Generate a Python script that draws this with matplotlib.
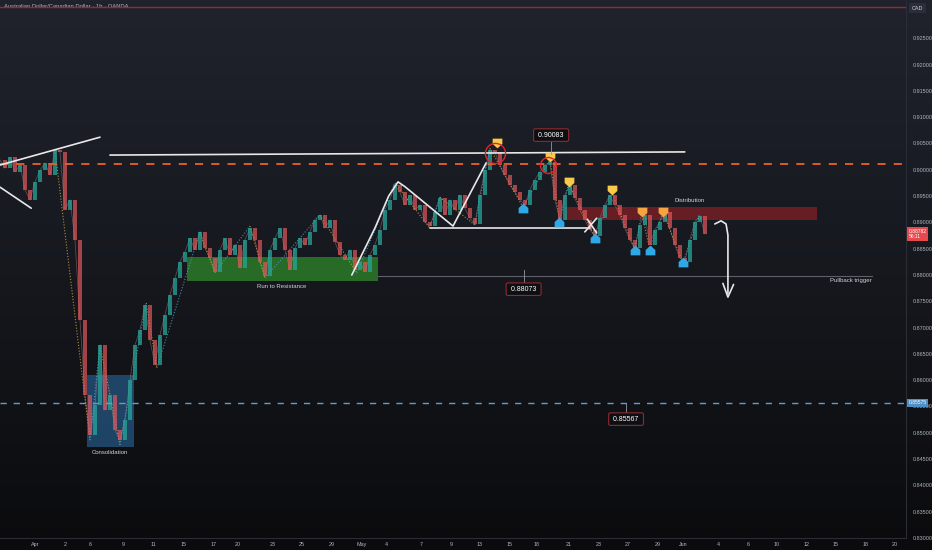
import matplotlib
matplotlib.use("Agg")
import matplotlib.pyplot as plt
import matplotlib.transforms as mtransforms
import numpy as np
from matplotlib.path import Path
from matplotlib.patches import Rectangle
from matplotlib.colors import LinearSegmentedColormap

plt.rcParams['font.family'] = ['Liberation Sans', 'DejaVu Sans']

# AUD/CAD closes, one value every 8 hours
step_hours = 8
closes = [
    0.9019, 0.9003, 0.9024, 0.8996, 0.9009, 0.8962, 0.8943, 0.8977, 0.8999, 0.9013,
    0.8990, 0.9038, 0.9034, 0.8924, 0.8943, 0.8867, 0.8714, 0.8572, 0.8496, 0.8553,
    0.8667, 0.8543, 0.8572, 0.8505, 0.8486, 0.8524, 0.8600, 0.8667, 0.8695, 0.8743,
    0.8676, 0.8629, 0.8686, 0.8724, 0.8762, 0.8794, 0.8825, 0.8844, 0.8870, 0.8848,
    0.8882, 0.8851, 0.8832, 0.8806, 0.8848, 0.8870, 0.8838, 0.8857, 0.8813, 0.8867,
    0.8889, 0.8867, 0.8825, 0.8798, 0.8848, 0.8870, 0.8889, 0.8848, 0.8810, 0.8851,
    0.8870, 0.8857, 0.8882, 0.8905, 0.8914, 0.8889, 0.8905, 0.8863, 0.8838, 0.8829,
    0.8848, 0.8810, 0.8825, 0.8806, 0.8838, 0.8857, 0.8886, 0.8924, 0.8943, 0.8971,
    0.8958, 0.8933, 0.8952, 0.8924, 0.8933, 0.8901, 0.8893, 0.8920, 0.8946, 0.8914,
    0.8943, 0.8924, 0.8952, 0.8927, 0.8908, 0.8897, 0.8952, 0.8999, 0.9038, 0.9034,
    0.9009, 0.8990, 0.8971, 0.8958, 0.8943, 0.8933, 0.8962, 0.8981, 0.8996, 0.9009,
    0.9015, 0.8943, 0.8905, 0.8952, 0.8971, 0.8946, 0.8924, 0.8905, 0.8886, 0.8874,
    0.8908, 0.8933, 0.8952, 0.8933, 0.8914, 0.8889, 0.8867, 0.8851, 0.8895, 0.8914,
    0.8857, 0.8886, 0.8901, 0.8920, 0.8889, 0.8857, 0.8832, 0.8825, 0.8867, 0.8901,
    0.8912, 0.8878,
]

# date axis (hours from start)
date_ticks = [56, 104, 144, 198, 246, 294, 341, 381, 437, 483, 531, 579, 619, 674, 722,
              768, 816, 858, 910, 958, 1005, 1053, 1093, 1149, 1197, 1243, 1291, 1338, 1386, 1432]
date_labels = ['Apr', '2', '6', '9', '11', '15', '17', '20', '23', '25', '29', 'May', '4', '7', '9',
               '13', '15', '18', '21', '23', '27', '29', 'Jun', '4', '6', '10', '12', '15', '18', '20']
price_ticks = [0.830, 0.835, 0.840, 0.845, 0.850, 0.855, 0.860, 0.865, 0.870, 0.875, 0.880,
               0.885, 0.890, 0.895, 0.900, 0.905, 0.910, 0.915, 0.920, 0.925]

# zigzag swing points
zigzag_hours = [88, 144, 160, 192, 234, 251, 320, 344, 400, 424, 512, 571, 632, 688, 704,
                760, 784, 837, 880, 896, 910, 952, 979, 1016, 1027, 1040, 1061, 1093, 1120]
zigzag_prices = [0.9038, 0.8486, 0.8667, 0.8477, 0.8747, 0.8623, 0.8882, 0.8804, 0.8893, 0.8794,
                 0.8914, 0.8804, 0.8975, 0.8889, 0.8948, 0.8895, 0.9041, 0.8929, 0.9019, 0.8901,
                 0.8975, 0.8872, 0.8958, 0.8848, 0.8918, 0.8848, 0.8920, 0.8823, 0.8916]

# swing labels
high_hours = [795, 880, 910, 979]
high_prices = [0.9051, 0.9024, 0.8977, 0.8962]
minor_high_hours = [1027, 1061]
minor_high_prices = [0.8920, 0.8920]
low_hours = [837, 894, 952, 1016, 1040, 1093]
low_prices = [0.8927, 0.8901, 0.8870, 0.8848, 0.8848, 0.8825]
circle_hours = [792, 877]
circle_prices = [0.9032, 0.9009]
circle_sizes = [14.5, 11.5]

# levels and zones
resistance_level = 0.9011
support_level = 0.85575
pullback_level = 0.8798
alert_level = 0.9310
last_price = 0.88782
consolidation_zone = (139, 214, 0.8473, 0.8610)
range_zone = (299, 605, 0.8789, 0.8834)
distribution_zone = (904, 1307, 0.8905, 0.8929)

# drawn trend lines
top_line_hours = [176, 1096]
top_line_prices = [0.9028, 0.9034]
neck_hours = [688, 944]
neck_prices = [0.8889, 0.8889]
wedge_up_hours = [0, 160]
wedge_up_prices = [0.9009, 0.9062]
wedge_dn_hours = [0, 50]
wedge_dn_prices = [0.8967, 0.8927]
swoosh_hours = [563, 600, 622, 637, 648, 725, 778]
swoosh_prices = [0.8800, 0.8889, 0.8950, 0.8977, 0.8968, 0.8893, 0.9013]
arrow_hours = [1144, 1154, 1162, 1165, 1165]
arrow_prices = [0.8897, 0.8903, 0.8897, 0.8876, 0.8765]
arrow_head_hours = [1157, 1165, 1174]
arrow_head_prices = [0.8784, 0.8758, 0.8782]

W, H = 932, 550
fig = plt.figure(figsize=(W / 100, H / 100), dpi=100)

bg = fig.add_axes([0, 0, 1, 1], zorder=-10)
cmap = LinearSegmentedColormap.from_list('bg', ['#20232d', '#16181e', '#0b0b0d'])
bg.imshow(np.linspace(0, 1, 256).reshape(-1, 1), aspect='auto', cmap=cmap,
          extent=[0, 1, 0, 1], origin='upper')
bg.axis('off')

ax = fig.add_axes([0, 12 / H, 906 / W, 538 / H])
ax.patch.set_alpha(0)
ax.set_xlim(0, 1450)
ax.set_ylim(0.83, 0.93228)

# candles (open = previous close)
closes = np.array(closes)
x = np.arange(len(closes)) * step_hours
opens = np.r_[closes[0], closes[:-1]]
up = closes >= opens
ax.bar(x[up], (closes - opens)[up], bottom=opens[up], width=6.5, color='#26a69a', alpha=0.75, zorder=3)
ax.bar(x[~up], (opens - closes)[~up], bottom=closes[~up], width=6.5, color='#e0575b', alpha=0.7, zorder=3)
ax.plot(x, closes, color='#b98a8f', lw=0.5, alpha=0.5, zorder=2)

# zigzag dotted legs
for i in range(len(zigzag_hours) - 1):
    c = '#4fa3c7' if zigzag_prices[i + 1] > zigzag_prices[i] else '#d9a845'
    ax.plot(zigzag_hours[i:i + 2], zigzag_prices[i:i + 2], color=c, lw=0.8,
            ls=(0, (1, 1.6)), alpha=0.8, zorder=2)

# zones
zones = [(consolidation_zone, '#2c6fa8', 0.55), (range_zone, '#2f8f2a', 0.7),
         (distribution_zone, '#8a1f26', 0.7)]
for (x0, x1, y0, y1), col, a in zones:
    ax.add_patch(Rectangle((x0, y0), x1 - x0, y1 - y0, fc=col, ec='none', alpha=a, zorder=1))

# horizontal levels
ax.axhline(resistance_level, color='#e8622c', lw=1.3, dashes=(4.5, 4.5), zorder=4)
ax.axhline(support_level, color='#5c9fd6', lw=1.0, dashes=(4.5, 5), zorder=4)
ax.axhline(alert_level, color='#a3242e', lw=1.0, zorder=4)
ax.plot([605, 1395], [pullback_level, pullback_level], color='#5d606b', lw=0.8, zorder=2)

# white drawings
white = dict(color='#e8e8ea', lw=1.2, zorder=5, solid_capstyle='round')
ax.plot(top_line_hours, top_line_prices, **white)
ax.plot(neck_hours, neck_prices, **white)
ax.plot(wedge_up_hours, wedge_up_prices, **white)
ax.plot(wedge_dn_hours, wedge_dn_prices, **white)
ax.plot(swoosh_hours, swoosh_prices, **white)
ax.plot([936, 955], [0.8882, 0.8908], **white)
ax.plot([940, 955], [0.8906, 0.8880], **white)
ax.plot(arrow_hours, arrow_prices, **white)
ax.plot(arrow_head_hours, arrow_head_prices, **white)

# swing markers
down_label = Path([(-1, 1), (1, 1), (1, -0.1), (0, -1), (-1, -0.1), (-1, 1)],
                  [Path.MOVETO, Path.LINETO, Path.LINETO, Path.LINETO, Path.LINETO, Path.CLOSEPOLY])
up_label = Path([(-1, -1), (1, -1), (1, 0.1), (0, 1), (-1, 0.1), (-1, -1)],
                [Path.MOVETO, Path.LINETO, Path.LINETO, Path.LINETO, Path.LINETO, Path.CLOSEPOLY])
ax.plot(high_hours, high_prices, ls='none', marker=down_label, ms=7, mfc='#f9c94a', mec='none', zorder=6)
ax.plot(minor_high_hours, minor_high_prices, ls='none', marker=down_label, ms=7, mfc='#f5a540', mec='none', zorder=6)
ax.plot(low_hours, low_prices, ls='none', marker=up_label, ms=7, mfc='#2fa8e6', mec='none', zorder=6)
for h, p, s in zip(circle_hours, circle_prices, circle_sizes):
    ax.plot(h, p, marker='o', ms=s, mfc='none', mec='#e0242f', mew=1.0, zorder=6)

# price notes
note = dict(ha='center', va='center', fontsize=5, color='white', zorder=7,
            bbox=dict(boxstyle='round,pad=0.4,rounding_size=0.25', fc='#0e0f13', ec='#8e2a30', lw=0.8))
for h, p_box, p0, p1, txt in [(882, 0.9066, 0.9053, 0.9030, '0.90083'),
                               (838, 0.8773, 0.8785, 0.8810, '0.88073'),
                               (1002, 0.8526, 0.8538, 0.8557, '0.85567')]:
    ax.plot([h, h], [p0, p1], color='#9598a1', lw=0.6, zorder=6)
    ax.text(h, p_box, ' ' + txt + ' ', **note)

lab = dict(fontsize=4.3, color='#d1d4dc', ha='center', va='center', zorder=7)
ax.text(1104, 0.8941, 'Distribution', **lab)
ax.text(451, 0.8779, 'Run to Resistance', **lab)
ax.text(176, 0.8462, 'Consolidation', **lab)
ax.text(1362, 0.8789, 'Pullback trigger', **lab)

bt = mtransforms.blended_transform_factory(ax.transAxes, ax.transData)
ax.text(0.004, 0.93095, 'Australian Dollar/Canadian Dollar \u00b7 1h \u00b7 OANDA', fontsize=4.2,
        color='#b2b5be', ha='left', va='center', transform=bt)

# axes styling
ax.set_xticks(date_ticks)
ax.set_xticklabels(date_labels)
ax.set_yticks(price_ticks)
ax.set_yticklabels([f'{p:.5f}' for p in price_ticks])
ax.yaxis.tick_right()
ax.tick_params(axis='y', length=0, pad=5, labelsize=3.9, labelcolor='#b2b5be')
ax.tick_params(axis='x', length=0, pad=3, labelsize=3.9, labelcolor='#b2b5be')
for s in ['top', 'left']:
    ax.spines[s].set_visible(False)
for s in ['right', 'bottom']:
    ax.spines[s].set_color('#2a2d35')
    ax.spines[s].set_linewidth(0.8)

# right-scale badges
ax.text(1.003, last_price, '0.88782\n56:11', transform=bt, ha='left', va='center', fontsize=3.6,
        color='white', linespacing=1.15, zorder=8, clip_on=False,
        bbox=dict(boxstyle='square,pad=0.3', fc='#e5484d', ec='none'))
ax.text(1.003, support_level, '0.85575', transform=bt, ha='left', va='center', fontsize=3.6,
        color='white', zorder=8, clip_on=False,
        bbox=dict(boxstyle='square,pad=0.3', fc='#4f8fc8', ec='none'))
fig.text(917.5 / W, 1 - 8 / H, 'CAD', ha='center', va='center', fontsize=3.9, color='#d1d4dc',
         bbox=dict(boxstyle='square,pad=0.45', fc='#2a2e39', ec='none'))

fig.savefig('out.png', dpi=100)
